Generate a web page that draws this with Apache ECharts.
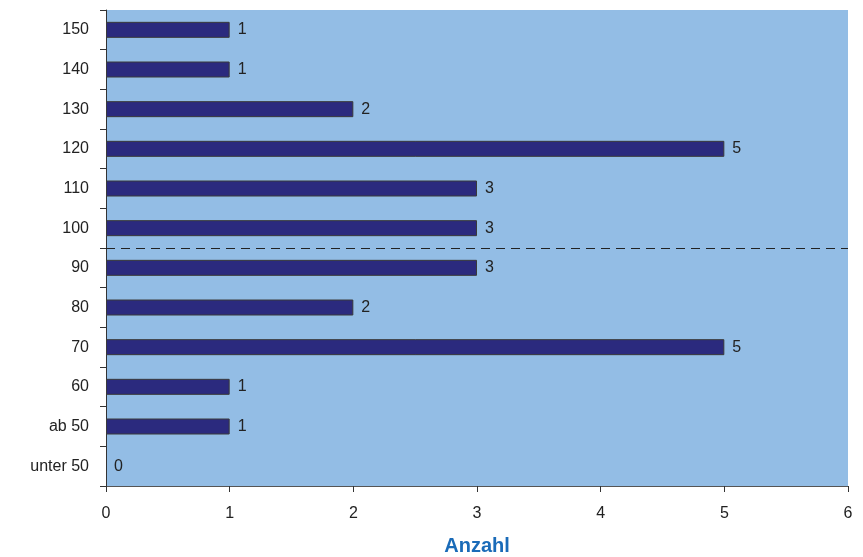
<!DOCTYPE html>
<html>
<head>
<meta charset="utf-8">
<script src="https://cdn.jsdelivr.net/npm/echarts@6/dist/echarts.min.js"></script>
<style>html,body{margin:0;padding:0;background:#fff}#c{width:863px;height:557px}</style>
</head>
<body>
<div id="c"></div>
<script>
var categories = ['unter 50', 'ab 50', '60', '70', '80', '90', '100', '110', '120', '130', '140', '150'];
var values = [0, 1, 1, 5, 2, 3, 3, 3, 5, 2, 1, 1];
var xTicks = [0, 1, 2, 3, 4, 5, 6];
var separatorPosition = 6; // boundary between "90" and "100"
var xTitle = 'Anzahl';

var chart = echarts.init(document.getElementById('c'), null, {renderer: 'canvas'});
var font = '"Liberation Sans", Arial, Helvetica, sans-serif';
var barData = values.map(function (v) {
  return v === 0 ? {value: v, itemStyle: {borderWidth: 0}} : v;
});
chart.setOption({
  animation: false,
  grid: {left: 106, right: 15, top: 10, bottom: 71, show: true, backgroundColor: '#93BDE5', borderWidth: 0,
         outerBoundsMode: 'none', containLabel: false},
  xAxis: {
    type: 'value', min: xTicks[0], max: xTicks[xTicks.length - 1], interval: 1,
    name: xTitle, nameLocation: 'middle', nameGap: 50,
    nameTextStyle: {color: '#1A6BB8', fontSize: 20, fontWeight: 'bold', fontFamily: font},
    axisLine: {show: true, lineStyle: {color: '#555', width: 1}},
    axisTick: {show: true, length: 6, lineStyle: {color: '#333'}},
    axisLabel: {color: '#222', fontSize: 16, fontFamily: font, margin: 20},
    splitLine: {show: false}
  },
  yAxis: [{
    type: 'category', data: categories,
    axisLine: {show: true, lineStyle: {color: '#333', width: 1}},
    axisTick: {show: true, length: 6, lineStyle: {color: '#333'}},
    axisLabel: {color: '#222', fontSize: 16, fontFamily: font, margin: 17},
    splitLine: {show: false}
  }, {
    type: 'value', min: 0, max: categories.length, show: false, position: 'left'
  }],
  series: [{
    type: 'bar', data: barData, barWidth: 16,
    itemStyle: {color: '#2B2A7E', borderColor: '#3a3a3a', borderWidth: 1},
    label: {show: true, position: 'right', distance: 8, color: '#222', fontSize: 16, fontFamily: font}
  }, {
    type: 'scatter', yAxisIndex: 1, data: [], silent: true,
    markLine: {
      silent: true, symbol: ['none', 'none'], label: {show: false},
      lineStyle: {type: [9, 6], color: '#222', width: 1},
      data: [{yAxis: separatorPosition}]
    }
  }]
});
</script>
</body>
</html>
